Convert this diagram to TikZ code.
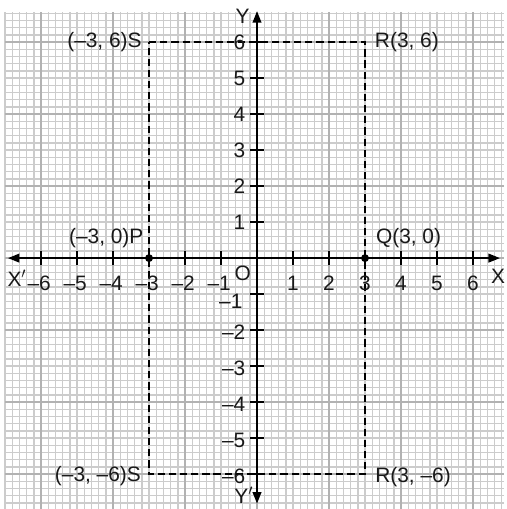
\documentclass[tikz,border=0pt]{standalone}
\usepackage{fontspec}
\setmainfont{Liberation Sans}
\usetikzlibrary{arrows.meta}
\begin{document}
\begin{tikzpicture}[
  minorgrid/.style={line width=1.1pt, draw=black!20},
  majorgrid/.style={line width=1.5pt, draw=black!30},
  axisline/.style={line width=1.5pt, draw=black, -{Triangle[length=0.32cm,width=0.24cm]}},
  tickline/.style={line width=1.3pt, draw=black},
  lbl/.style={font=\fontsize{16.5}{18}\selectfont, text=black!90, inner sep=0pt},
  dashrect/.style={line width=1.2pt, draw=black, dash pattern=on 0.2cm off 0.11cm},
  dot/.style={circle, fill=black, inner sep=0pt, minimum size=0.22cm}
]
\useasboundingbox (-7.14,-6.97) rectangle (6.92,7.17);
\fill[white] (-7.14,-6.97) rectangle (6.92,7.17);
% grid
\foreach \i in {-35,...,34} {
  \draw[minorgrid] (\i/5,-7) -- (\i/5,6.85);
  \draw[minorgrid] (-7,\i/5) -- (6.85,\i/5);
}
\foreach \i in {-6,-4,...,6} {
  \draw[majorgrid] (\i,-7) -- (\i,6.85);
  \draw[majorgrid] (-7,\i) -- (6.85,\i);
}
% dashed rectangle
\coordinate (S1) at (-3,6);
\coordinate (R1) at (3,6);
\coordinate (R2) at (3,-6);
\coordinate (S2) at (-3,-6);
\draw[dashrect] (S1) -- (R1) -- (R2) -- (S2) -- cycle;
% axes
\coordinate (O) at (0,0);
\coordinate (xl) at (-6.92,0);
\coordinate (xr) at (6.75,0);
\coordinate (yb) at (0,-6.82);
\coordinate (yt) at (0,6.86);
\draw[axisline] (O) -- (xl);
\draw[axisline] (O) -- (xr);
\draw[axisline] (O) -- (yb);
\draw[axisline] (O) -- (yt);
% ticks and labels
\foreach \k in {1,...,6} {
  \draw[tickline] (\k,-0.2) -- (\k,0.2);
  \draw[tickline] (-\k,-0.2) -- (-\k,0.2);
  \draw[tickline] (-0.2,\k) -- (0.2,\k);
  \draw[tickline] (-0.2,-\k) -- (0.2,-\k);
  \node[lbl, anchor=base] (xp\k) at (\k,-0.9) {\k};
  \node[lbl, anchor=base] (xn\k) at (-\k-0.05,-0.9) {\textendash\k};
  \node[lbl, anchor=base east] (yp\k) at (-0.32,\k-0.2) {\k};
}
\foreach \k in {2,...,6} {
  \node[lbl, anchor=base east] (yn\k) at (-0.32,-\k-0.25) {\textendash\k};
}
\node[lbl, anchor=base east] (yn1) at (-0.4,-1.4) {\textendash1};
\node[lbl] (Olbl) at (-0.4,-0.42) {O};
\node[lbl] (Xlbl) at (6.7,-0.5) {X};
\node[lbl] (Xplbl) at (-6.67,-0.56) {X$'$};
\node[lbl] (Ylbl) at (-0.4,6.72) {Y};
\node[lbl, anchor=east] (Yplbl) at (-0.1,-6.6) {Y$'$};
% points
\node[dot] (P) at (-3,0) {};
\node[dot] (Q) at (3,0) {};
\node[lbl, anchor=east] (Plbl) at (-3.15,0.55) {(\textendash3, 0)P};
\node[lbl, anchor=west] (Qlbl) at (3.3,0.55) {Q(3, 0)};
\node[lbl, anchor=east] (S1lbl) at (-3.2,6.0) {(\textendash3, 6)S};
\node[lbl, anchor=west] (R1lbl) at (3.27,6.0) {R(3, 6)};
\node[lbl, anchor=east] (S2lbl) at (-3.22,-6.05) {(\textendash3, \textendash6)S};
\node[lbl, anchor=west] (R2lbl) at (3.28,-6.07) {R(3, \textendash6)};
\end{tikzpicture}
\end{document}
